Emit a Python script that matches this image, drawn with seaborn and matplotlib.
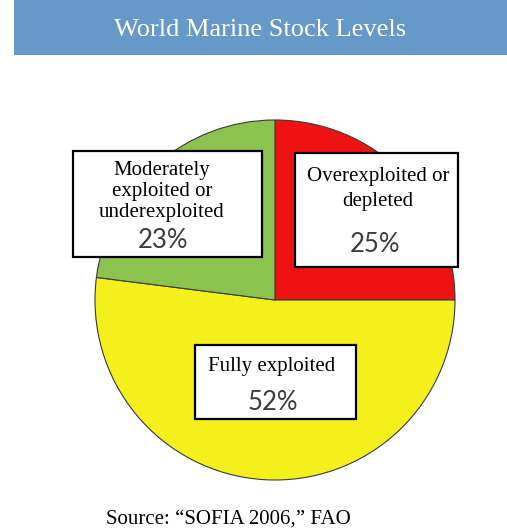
import matplotlib
matplotlib.use("Agg")
import matplotlib.pyplot as plt
from matplotlib.patches import Rectangle
import seaborn as sns

# Stock status shares (percent), clockwise from 12 o'clock
categories = ["Overexploited or\ndepleted", "Fully exploited", "Moderately\nexploited or\nunderexploited"]
shares = [25, 52, 23]
share_labels = ["25%", "52%", "23%"]
slice_colors = ["#F01212", "#F4F01C", "#8CC34E"]

title = "World Marine Stock Levels"
source = "Source: \u201cSOFIA 2006,\u201d FAO"

sns.set_theme(style="white")
palette = sns.color_palette(slice_colors)

W, H = 507, 531
fig = plt.figure(figsize=(W / 100, H / 100), dpi=100)
ax = fig.add_axes([0, 0, 1, 1])


def Y(y):
    """Convert a top-down pixel row into the axes' bottom-up y."""
    return H - y


SERIF = "Liberation Serif"
SANS = "Lato"

# Pie
ax.pie(
    shares,
    colors=palette,
    startangle=90,
    counterclock=False,
    radius=180,
    center=(275, Y(300)),
    frame=False,
    wedgeprops=dict(edgecolor="#3a3a3a", linewidth=0.8),
)
ax.set_xlim(0, W)
ax.set_ylim(0, H)
ax.set_aspect("equal")
ax.axis("off")

# Title banner
ax.add_patch(Rectangle((14, Y(55)), W - 14, 55, facecolor="#6699C9",
                       edgecolor="none", zorder=3))
ax.text(260, Y(36), title, ha="center", va="baseline", color="white",
        fontsize=19, family=SERIF, zorder=4)

# Label boxes: (left, top, right, bottom), text centre x, line baselines, pct baseline
boxes = [
    ((294.5, 152.5, 457.5, 266.5), 378, [181, 206], (375, 252)),
    ((194.5, 344.5, 355.5, 418.5), 272, [371], (273, 410)),
    ((73, 151, 262, 257), 162, [175, 196, 217], (163, 248)),
]

for cat, pct, (rect, cx, baselines, (px, py)) in zip(categories, share_labels, boxes):
    l, t, r, b = rect
    ax.add_patch(Rectangle((l, Y(b)), r - l, b - t, facecolor="white",
                           edgecolor="black", linewidth=1.6, zorder=5))
    for line, by in zip(cat.split("\n"), baselines):
        ax.text(cx, Y(by), line, ha="center", va="baseline", color="black",
                fontsize=15, family=SERIF, zorder=6)
    ax.text(px, Y(py), pct, ha="center", va="baseline", color="#3c3c3c",
            fontsize=18.5, family=SANS, zorder=6)

# Source note
ax.text(106, Y(524), source, ha="left", va="baseline", color="black",
        fontsize=15, family=SERIF)

fig.savefig("out.png", dpi=100)
